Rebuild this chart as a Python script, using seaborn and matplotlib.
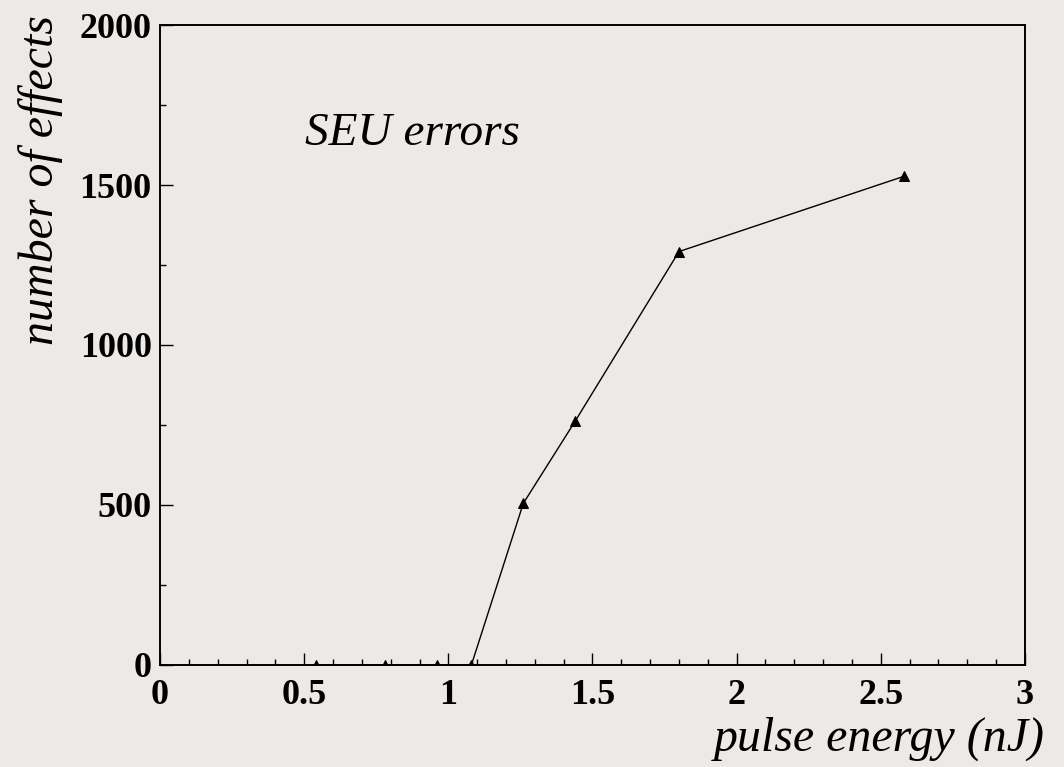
import matplotlib
matplotlib.use("Agg")
import matplotlib.pyplot as plt
from matplotlib.ticker import MultipleLocator
import seaborn as sns
import pandas as pd

# SEU error counts versus laser pulse energy
pulse_energy = [0.54, 0.78, 0.96, 1.08, 1.26, 1.44, 1.80, 2.58]
n_effects = [0, 0, 0, 0, 505, 762, 1292, 1527]

x_ticks = [0, 0.5, 1, 1.5, 2, 2.5, 3]
x_tick_labels = ["0", "0.5", "1", "1.5", "2", "2.5", "3"]
y_ticks = [0, 500, 1000, 1500, 2000]
y_tick_labels = ["0", "500", "1000", "1500", "2000"]

df = pd.DataFrame({"energy": pulse_energy, "effects": n_effects})

bg = "#ece9e7"
sns.set_style("ticks")
plt.rcParams["font.family"] = ["Liberation Serif", "DejaVu Serif"]
plt.rcParams["text.color"] = "black"
plt.rcParams["xtick.color"] = "black"
plt.rcParams["ytick.color"] = "black"

fig = plt.figure(figsize=(10.64, 7.67), dpi=100, facecolor=bg)
ax = fig.add_axes([0.1504, 0.133, 0.8129, 0.8344], facecolor=bg)

sns.lineplot(data=df, x="energy", y="effects", ax=ax, color="black",
             linewidth=1.0, marker="^", markersize=7, markeredgecolor="black",
             markerfacecolor="black", sort=False)

ax.set_xlim(0, 3)
ax.set_ylim(0, 2000)
ax.set_xticks(x_ticks)
ax.set_xticklabels(x_tick_labels, fontsize=26, fontweight="bold", color="black")
ax.set_yticks(y_ticks)
ax.set_yticklabels(y_tick_labels, fontsize=26, fontweight="bold", color="black")
ax.xaxis.set_minor_locator(MultipleLocator(0.1))
ax.yaxis.set_minor_locator(MultipleLocator(250))

ax.tick_params(axis="both", which="major", direction="in", length=9, width=1.0,
               color="black", pad=6, top=False, right=False)
ax.tick_params(axis="x", which="major", pad=10)
ax.tick_params(axis="both", which="minor", direction="in", length=4.5, width=1.0,
               color="black", top=False, right=False)

for side in ["left", "bottom", "top", "right"]:
    ax.spines[side].set_visible(True)
    ax.spines[side].set_color("black")
    ax.spines[side].set_linewidth(1.4)

ax.set_xlabel("")
ax.set_ylabel("")
fig.text(0.9815, 0.021, "pulse energy (nJ)", ha="right", va="baseline",
         fontsize=34.5, fontstyle="italic", color="black")
fig.text(0.0385, 0.980, "number of effects", ha="center", va="top",
         rotation=90, fontsize=34.5, fontstyle="italic", color="black")
ax.text(0.503, 1625, "SEU errors", ha="left", va="baseline",
        fontsize=34, fontstyle="italic", color="black")

fig.savefig("out.png", dpi=100, facecolor=bg)
